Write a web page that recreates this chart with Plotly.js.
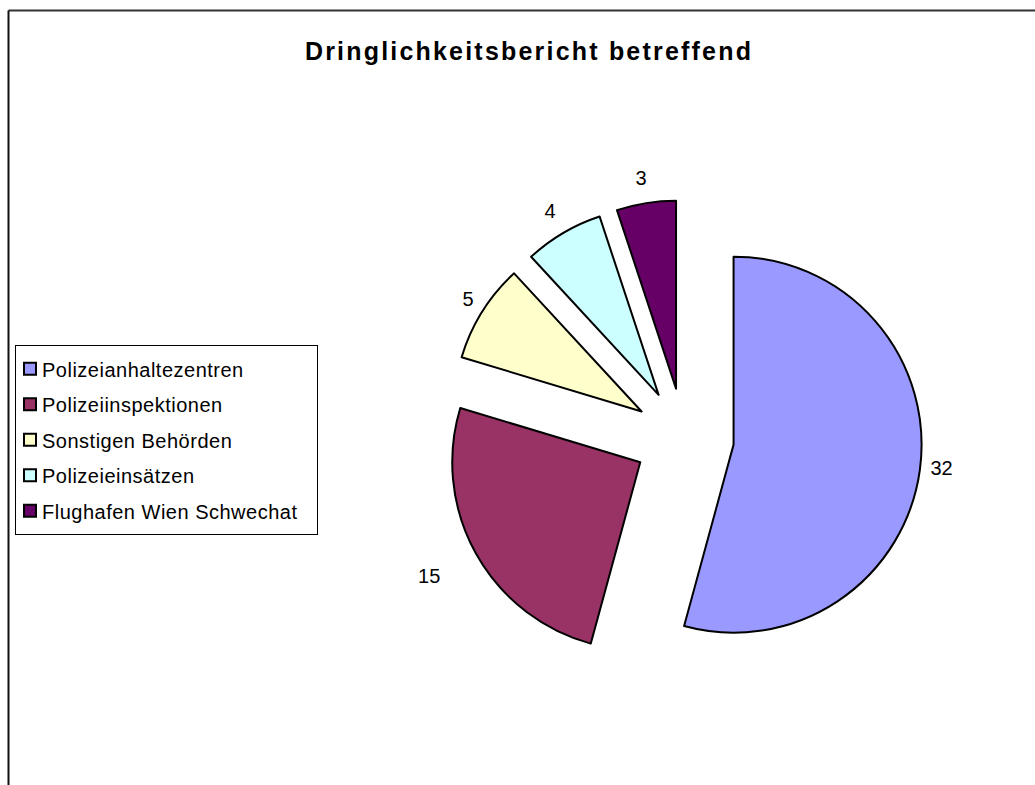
<!DOCTYPE html>
<html>
<head>
<meta charset="utf-8">
<script src="https://cdn.plot.ly/plotly-3.0.1.min.js"></script>
<style>
  html, body { margin: 0; padding: 0; background: #fff; }
  #chart { width: 1035px; height: 785px; }
  .gtitle { letter-spacing: 2.2px; }
  .legendtext { font-size: 20px !important; letter-spacing: 0.5px; translate: -14px -2px; }
  .legend .layers { translate: -6px 0; }
  .slice:nth-of-type(1) .slicetext { translate: 2.5px -1px; }
  .slice:nth-of-type(2) .slicetext { translate: -15px 10px; }
  .slice:nth-of-type(3) .slicetext { translate: -1.5px -5px; }
  .slice:nth-of-type(4) .slicetext { translate: -1px -7px; }
  .slice:nth-of-type(5) .slicetext { translate: 3px -7px; }
</style>
</head>
<body>
<div id="chart"></div>
<script>
const categories = ["Polizeianhaltezentren", "Polizeiinspektionen", "Sonstigen Behörden", "Polizeieinsätzen", "Flughafen Wien Schwechat"];
const values = [32, 15, 5, 4, 3];
const sliceColors = ["#9999FF", "#993366", "#FFFFCC", "#CCFFFF", "#660066"];
const chartTitle = "Dringlichkeitsbericht betreffend";

const W = 1035, H = 785;
const cx = 684, cy = 438, r = 188, pull = 0.266;
const half = r * (1 + pull);

const trace = {
  type: "pie",
  labels: categories,
  values: values,
  sort: false,
  direction: "clockwise",
  rotation: 0,
  pull: values.map(() => pull),
  marker: { colors: sliceColors, line: { color: "#000", width: 2 } },
  textinfo: "value",
  textposition: "outside",
  textfont: { family: "Liberation Sans, Arial, sans-serif", size: 20, color: "#000" },
  hoverinfo: "label+value",
  domain: {
    x: [(cx - half) / W, (cx + half) / W],
    y: [(H - cy - half) / H, (H - cy + half) / H]
  }
};

const layout = {
  width: W, height: H,
  margin: { l: 0, r: 0, t: 0, b: 0 },
  paper_bgcolor: "#fff",
  font: { family: "Liberation Sans, Arial, sans-serif", color: "#000" },
  title: {
    text: "<b>" + chartTitle + "</b>",
    font: { family: "Liberation Sans, Arial, sans-serif", size: 25, color: "#000" },
    x: 529 / W, xanchor: "center", xref: "container",
    y: 1 - 51 / H, yanchor: "middle", yref: "container"
  },
  showlegend: true,
  legend: {
    x: 15 / W, xanchor: "left",
    y: 1 - 345 / H, yanchor: "top",
    bordercolor: "#000", borderwidth: 1,
    bgcolor: "#fff",
    font: { family: "Liberation Sans, Arial, sans-serif", size: 25, color: "#000" }
  },
  shapes: [
    { type: "line", xref: "paper", yref: "paper", x0: 8.5 / W, x1: 1.01, y0: 1 - 10.5 / H, y1: 1 - 10.5 / H, line: { color: "#333", width: 2 } },
    { type: "line", xref: "paper", yref: "paper", x0: 8.5 / W, x1: 8.5 / W, y0: -0.01, y1: 1 - 10.5 / H, line: { color: "#111", width: 2 } }
  ]
};

Plotly.newPlot("chart", [trace], layout, { displayModeBar: false, staticPlot: true });
</script>
</body>
</html>
